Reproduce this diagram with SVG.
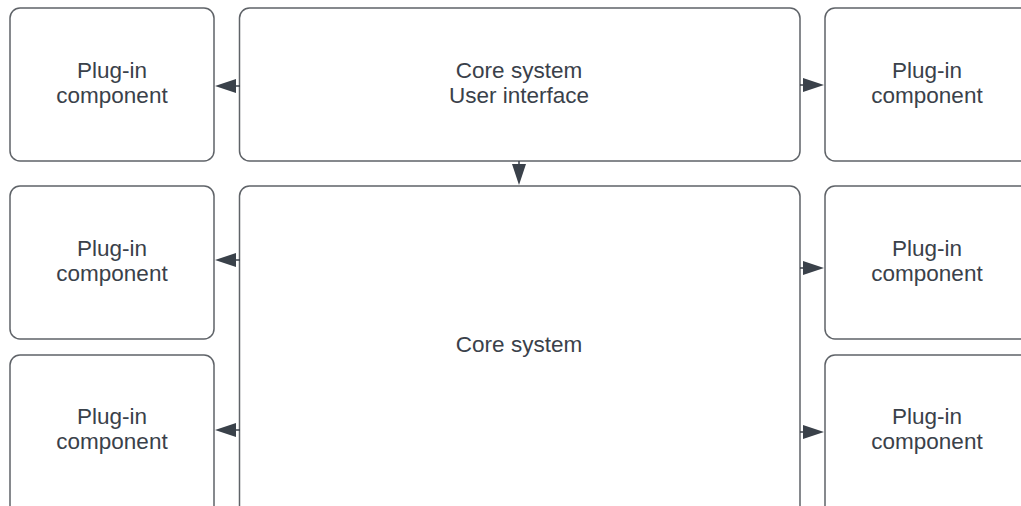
<svg xmlns="http://www.w3.org/2000/svg" width="1021" height="506" viewBox="0 0 1021 506">
<style>
.box{fill:#fff;stroke:#5f6368;stroke-width:1.5}
.t{font-family:"Liberation Sans",Arial,sans-serif;font-size:22.5px;fill:#3a414a;text-anchor:middle}
.c{stroke:#3a414a;stroke-width:1.5;fill:none}
.a{fill:#3a414a}
</style>
<rect width="1021" height="506" fill="#fff"/>
<g id="plugin-left-1"><rect class="box" x="10" y="8" width="204" height="153" rx="10"/><text class="t" x="112" y="77.5">Plug-in</text><text class="t" x="112" y="103">component</text></g>
<g id="core-ui"><rect class="box" x="239.5" y="8" width="560.5" height="153" rx="10"/><text class="t" x="519" y="77.5">Core system</text><text class="t" x="519" y="103">User interface</text></g>
<g id="plugin-right-1"><rect class="box" x="825" y="8" width="210" height="153" rx="10"/><text class="t" x="927" y="77.5">Plug-in</text><text class="t" x="927" y="103">component</text></g>
<g id="plugin-left-2"><rect class="box" x="10" y="186" width="204" height="153" rx="10"/><text class="t" x="112" y="255.5">Plug-in</text><text class="t" x="112" y="281">component</text></g>
<g id="core"><rect class="box" x="239.5" y="186" width="560.5" height="340" rx="10"/><text class="t" x="519" y="352">Core system</text></g>
<g id="plugin-right-2"><rect class="box" x="825" y="186" width="210" height="153" rx="10"/><text class="t" x="927" y="255.5">Plug-in</text><text class="t" x="927" y="281">component</text></g>
<g id="plugin-left-3"><rect class="box" x="10" y="355" width="204" height="170" rx="10"/><text class="t" x="112" y="423.5">Plug-in</text><text class="t" x="112" y="449">component</text></g>
<g id="plugin-right-3"><rect class="box" x="825" y="355" width="210" height="170" rx="10"/><text class="t" x="927" y="423.5">Plug-in</text><text class="t" x="927" y="449">component</text></g>
<g id="connectors">
<path class="c" d="M240 86H234"/><polygon class="a" points="215,86 236,79 236,93"/>
<path class="c" d="M800 85H806"/><polygon class="a" points="824,85 803,78 803,92"/>
<path class="c" d="M519 161V167"/><polygon class="a" points="519,185 512,164 526,164"/>
<path class="c" d="M240 260H234"/><polygon class="a" points="215,260 236,253 236,267"/>
<path class="c" d="M800 268H806"/><polygon class="a" points="824,268 803,261 803,275"/>
<path class="c" d="M240 430H234"/><polygon class="a" points="215,430 236,423 236,437"/>
<path class="c" d="M800 432H806"/><polygon class="a" points="824,432 803,425 803,439"/>
</g>
</svg>
